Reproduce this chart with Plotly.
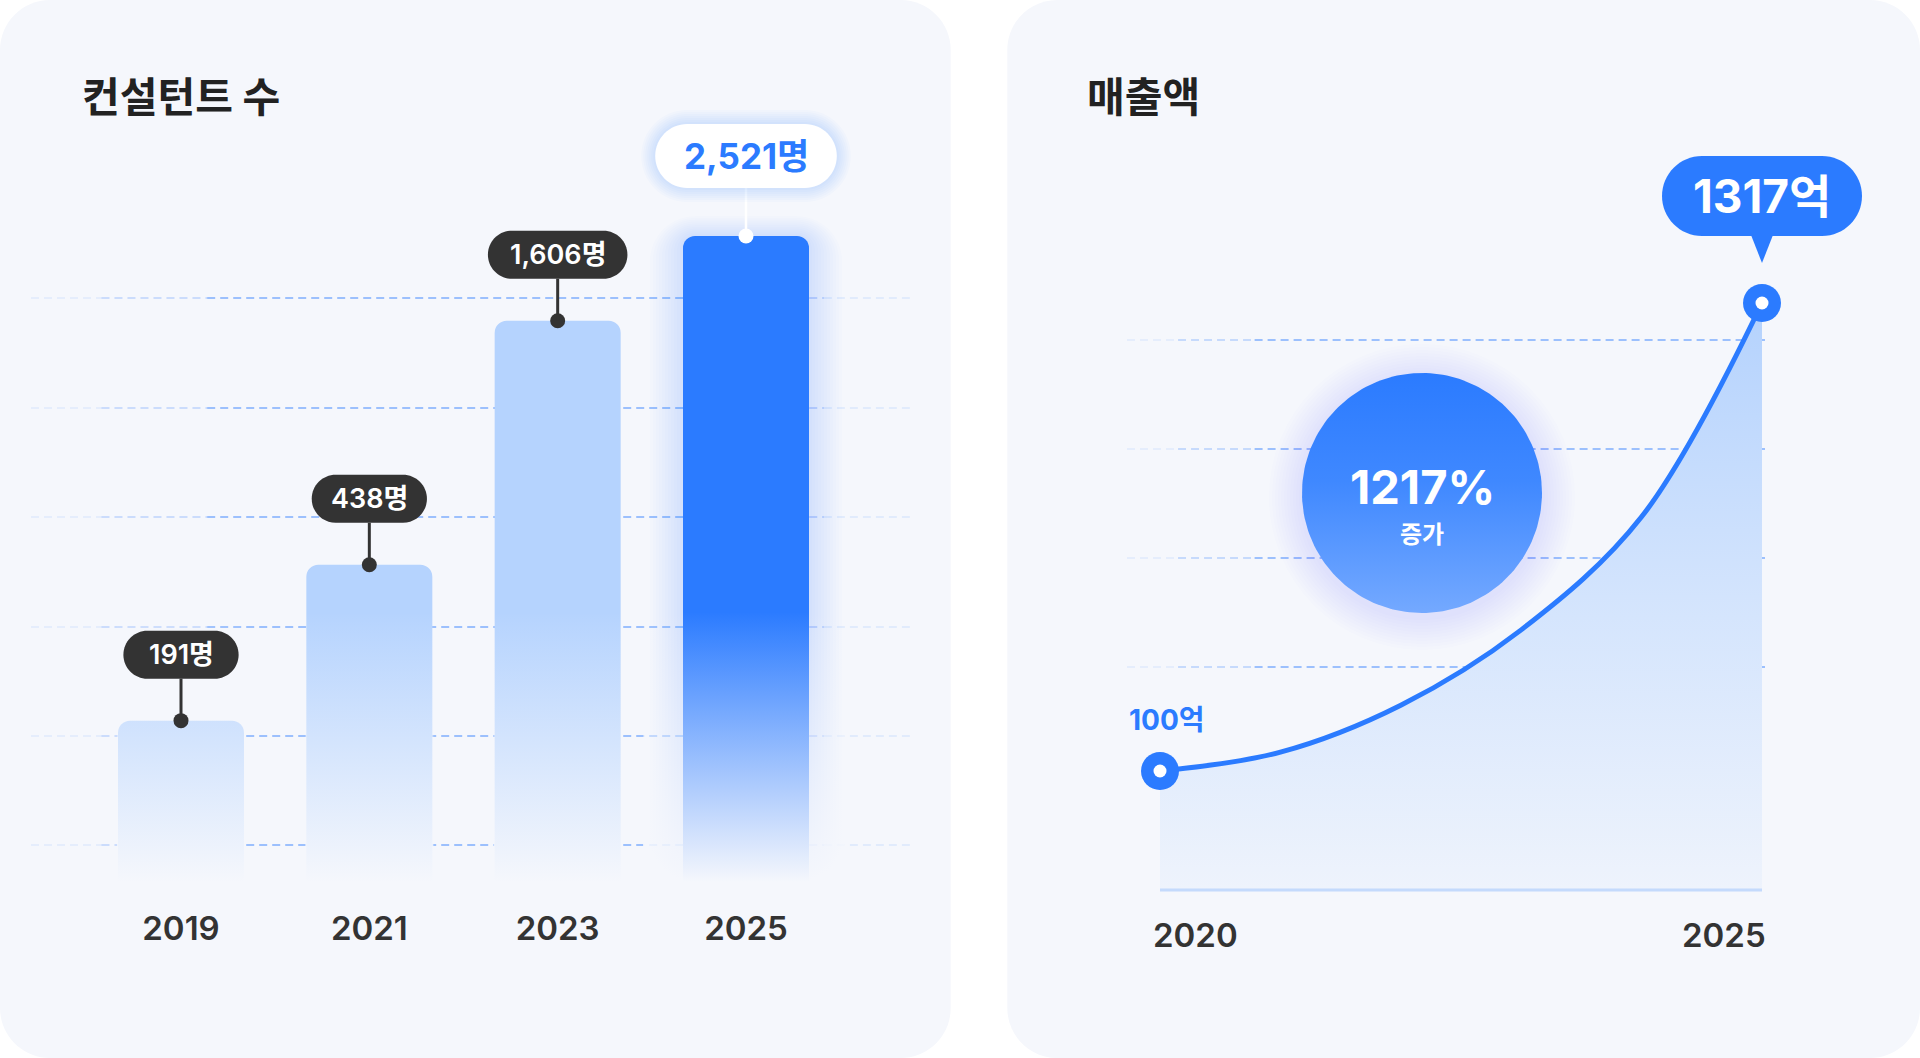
import numpy as np
import plotly.graph_objects as go

# ---------------- data ----------------
consultant_title = "컨설턴트 수"
consultant_years = [2019, 2021, 2023, 2025]
consultant_counts = [191, 438, 1606, 2521]
consultant_unit = "명"

revenue_title = "매출액"
revenue_years = [2020, 2021, 2022, 2023, 2024, 2025]
revenue_values = [100, 149, 271, 467, 761, 1317]   # 억 (intermediate years)
revenue_unit = "억"
growth_word = "증가"

# ---------------- style ----------------
W, H = 1920, 1058
CARD = "#f5f7fc"
BLUE = "#2b7bff"
LIGHT_BAR = "#b5d3fe"
DARK = "#333333"
TITLE_C = "#222222"
FONT = "Inter, 'Noto Sans CJK KR', sans-serif"


def pxx(p):
    return p / W


def pxy(p):
    return 1 - p / H


def rrect(x0, y0, x1, y1, r):
    k = 0.5523 * r
    f = lambda v: f"{v:.2f}"
    return (f"M{f(x0+r)},{f(y0)} L{f(x1-r)},{f(y0)} C{f(x1-r+k)},{f(y0)} {f(x1)},{f(y0+r-k)} {f(x1)},{f(y0+r)} "
            f"L{f(x1)},{f(y1-r)} C{f(x1)},{f(y1-r+k)} {f(x1-r+k)},{f(y1)} {f(x1-r)},{f(y1)} "
            f"L{f(x0+r)},{f(y1)} C{f(x0+r-k)},{f(y1)} {f(x0)},{f(y1-r+k)} {f(x0)},{f(y1-r)} "
            f"L{f(x0)},{f(y0+r)} C{f(x0)},{f(y0+r-k)} {f(x0+r-k)},{f(y0)} {f(x0+r)},{f(y0)} Z")


def text_w(s, fs):
    w = 0
    for c in s:
        if c.isdigit():
            w += 0.62 * fs
        elif c in ",.":
            w += 0.28 * fs
        else:
            w += 1.0 * fs
    return w


# ---------------- left geometry ----------------
L_XPX = (31, 912)
L_YPX = (100, 882)
l_first_px, l_last_px = 181, 746
l_ppy = (l_last_px - l_first_px) / (consultant_years[-1] - consultant_years[0])
l_xrange = [consultant_years[0] - (l_first_px - L_XPX[0]) / l_ppy,
            consultant_years[-1] + (L_XPX[1] - l_last_px) / l_ppy]
L_YRANGE = [1.908, 3.716]
l_ppd = (L_YPX[1] - L_YPX[0]) / (L_YRANGE[1] - L_YRANGE[0])
bar_w = 126 / l_ppy
base_val = 10 ** L_YRANGE[0]
fade_val = 10 ** (L_YRANGE[0] + (L_YPX[1] - 612) / l_ppd)


def l_top_px(v):
    return L_YPX[1] - (np.log10(v) - L_YRANGE[0]) * l_ppd


# ---------------- right geometry ----------------
R_XPX = (1127, 1910)
R_YPX = (100, 890)
r_first_px, r_last_px = 1160, 1762
r_ppy = (r_last_px - r_first_px) / (revenue_years[-1] - revenue_years[0])
r_xrange = [revenue_years[0] - (r_first_px - R_XPX[0]) / r_ppy,
            revenue_years[-1] + (R_XPX[1] - r_last_px) / r_ppy]
r_lo_px, r_hi_px = 771, 303
r_ppu = (r_lo_px - r_hi_px) / (revenue_values[-1] - revenue_values[0])
r_yrange = [revenue_values[0] - (R_YPX[1] - r_lo_px) / r_ppu,
            revenue_values[-1] + (r_hi_px - R_YPX[0]) / r_ppu]

fig = go.Figure()
shapes = []
annotations = []

# ---------------- cards ----------------
for (cx0, cx1) in [(0, 950.7), (1007.3, 1920)]:
    shapes.append(dict(type="path", xref="paper", yref="paper", xsizemode="pixel", ysizemode="pixel",
                       xanchor=0, yanchor=1, path=rrect(cx0, -H, cx1, 0, 50),
                       fillcolor=CARD, line=dict(width=0), layer="below"))


# ---------------- grid lines (decorative, dashed, faded ends) ----------------
def grid(x0, x1, y, profile):
    for f0, f1, op in profile:
        shapes.append(dict(type="line", xref="paper", yref="paper",
                           x0=pxx(x0 + (x1 - x0) * f0), x1=pxx(x0 + (x1 - x0) * f1),
                           y0=pxy(y), y1=pxy(y),
                           line=dict(color=f"rgba(43,123,255,{op})", width=1.6, dash="8px,5px"),
                           layer="below"))


for gy in [298, 408, 517, 627, 736, 845]:
    grid(31, 912, gy, [(0, 0.08, 0.10), (0.08, 0.2, 0.28), (0.2, 0.78, 0.58), (0.78, 0.9, 0.32), (0.9, 1, 0.12)])
for gy in [340, 449, 558, 667]:
    grid(1127, 1765, gy, [(0, 0.08, 0.10), (0.08, 0.2, 0.3), (0.2, 1, 0.58)])

# ---------------- left: bars ----------------
bar_colors = [LIGHT_BAR] * (len(consultant_counts) - 1) + [BLUE]
fig.add_trace(go.Bar(x=consultant_years, y=consultant_counts, width=bar_w,
                     marker=dict(color=bar_colors, line=dict(width=0), cornerradius=12),
                     xaxis="x", yaxis="y", hoverinfo="skip"))

# soft glow around highlighted bar
last_top = l_top_px(consultant_counts[-1])
for g in range(3, 36, 3):
    shapes.append(dict(type="path", xref="x", yref="y", xsizemode="pixel", ysizemode="pixel",
                       xanchor=consultant_years[-1], yanchor=consultant_counts[-1],
                       path=rrect(-63 - g, -(L_YPX[1] - last_top), 63 + g, g * 0.6, 12 + g),
                       fillcolor="rgba(43,123,255,0.014)", line=dict(width=0), layer="below"))

# fade of bars towards the bottom
for i, yr in enumerate(consultant_years):
    hw = bar_w / 2 + (40 / l_ppy if i == len(consultant_years) - 1 else 1 / l_ppy)
    fig.add_trace(go.Scatter(x=[yr - hw, yr + hw, yr + hw, yr - hw, yr - hw],
                             y=[base_val, base_val, fade_val, fade_val, base_val],
                             mode="lines", line=dict(width=0), fill="toself",
                             fillgradient=dict(type="vertical",
                                               colorscale=[[0, "rgba(245,247,252,1)"], [1, "rgba(245,247,252,0)"]]),
                             xaxis="x", yaxis="y", hoverinfo="skip"))

# dots on bar tops
dot_colors = [DARK] * (len(consultant_counts) - 1) + ["#ffffff"]
fig.add_trace(go.Scatter(x=consultant_years, y=consultant_counts, mode="markers",
                         marker=dict(size=15, color=dot_colors, line=dict(width=0)),
                         xaxis="x", yaxis="y", hoverinfo="skip"))

# labels on bars
for i, (yr, v) in enumerate(zip(consultant_years, consultant_counts)):
    txt = f"{v:,}{consultant_unit}"
    last = i == len(consultant_years) - 1
    if last:
        fs, h, off, pad = 35, 64, 80, 25
        fill, tcol, lcol, lw = "#ffffff", BLUE, "#ffffff", 2.5
    else:
        fs, h, off, pad = 27, 48, 66, 19
        fill, tcol, lcol, lw = DARK, "#ffffff", DARK, 3
    w = text_w(txt, fs) + 2 * pad
    shapes.append(dict(type="line", xref="x", yref="y", xsizemode="pixel", ysizemode="pixel",
                       xanchor=yr, yanchor=v, x0=0, x1=0, y0=0, y1=off - h / 2,
                       line=dict(color=lcol, width=lw), layer="above"))
    if last:
        for g in range(2, 16, 2):
            shapes.append(dict(type="path", xref="x", yref="y", xsizemode="pixel", ysizemode="pixel",
                               xanchor=yr, yanchor=v,
                               path=rrect(-w / 2 - g, off - h / 2 - g, w / 2 + g, off + h / 2 + g, h / 2 + g),
                               fillcolor="rgba(43,123,255,0.022)", line=dict(width=0), layer="above"))
    shapes.append(dict(type="path", xref="x", yref="y", xsizemode="pixel", ysizemode="pixel",
                       xanchor=yr, yanchor=v,
                       path=rrect(-w / 2, off - h / 2, w / 2, off + h / 2, h / 2),
                       fillcolor=fill, line=dict(width=0), layer="above"))
    annotations.append(dict(x=yr, y=np.log10(v), xref="x", yref="y", yshift=off, showarrow=False,
                            text=txt, font=dict(family=FONT, size=fs, color=tcol, weight=700 if last else 600),
                            xanchor="center", yanchor="middle"))

# ---------------- right: area line ----------------
fig.add_trace(go.Scatter(x=[revenue_years[0], revenue_years[-1]], y=[r_yrange[0], r_yrange[0]],
                         mode="lines", line=dict(width=0), xaxis="x2", yaxis="y2", hoverinfo="skip"))
fig.add_trace(go.Scatter(x=revenue_years, y=revenue_values, mode="lines",
                         line=dict(color=BLUE, width=5, shape="spline", smoothing=1.0),
                         fill="tonexty",
                         fillgradient=dict(type="vertical", start=r_yrange[0], stop=revenue_values[-1],
                                           colorscale=[[0, "#eef3fc"], [0.5, "#d3e4fd"], [1, "#b4d2fd"]]),
                         xaxis="x2", yaxis="y2", hoverinfo="skip"))

shapes.append(dict(type="line", xref="x2", yref="paper", x0=revenue_years[0], x1=revenue_years[-1],
                   y0=pxy(890), y1=pxy(890), line=dict(color="#c4dafc", width=3), layer="above"))

end_x = [revenue_years[0], revenue_years[-1]]
end_y = [revenue_values[0], revenue_values[-1]]
fig.add_trace(go.Scatter(x=end_x, y=end_y, mode="markers", marker=dict(size=38, color=BLUE, line=dict(width=0)),
                         xaxis="x2", yaxis="y2", hoverinfo="skip"))
fig.add_trace(go.Scatter(x=end_x, y=end_y, mode="markers", marker=dict(size=13, color="#ffffff", line=dict(width=0)),
                         xaxis="x2", yaxis="y2", hoverinfo="skip"))

# start label
annotations.append(dict(x=revenue_years[0], y=revenue_values[0], xref="x2", yref="y2", xshift=-33, yshift=51,
                        showarrow=False, text=f"{revenue_values[0]}{revenue_unit}",
                        font=dict(family=FONT, size=28, color=BLUE, weight=700),
                        xanchor="left", yanchor="middle"))

# end callout
end_txt = f"{revenue_values[-1]}{revenue_unit}"
cw, ch, coff = 200, 80, 107
shapes.append(dict(type="path", xref="x2", yref="y2", xsizemode="pixel", ysizemode="pixel",
                   xanchor=revenue_years[-1], yanchor=revenue_values[-1],
                   path=rrect(-cw / 2, coff - ch / 2, cw / 2, coff + ch / 2, ch / 2),
                   fillcolor=BLUE, line=dict(width=0), layer="above"))
shapes.append(dict(type="path", xref="x2", yref="y2", xsizemode="pixel", ysizemode="pixel",
                   xanchor=revenue_years[-1], yanchor=revenue_values[-1],
                   path=f"M-11,{coff - ch / 2 + 1} L11,{coff - ch / 2 + 1} L0,40 Z",
                   fillcolor=BLUE, line=dict(width=0), layer="above"))
annotations.append(dict(x=revenue_years[-1], y=revenue_values[-1], xref="x2", yref="y2", yshift=coff,
                        showarrow=False, text=end_txt, font=dict(family=FONT, size=46, color="#ffffff", weight=700),
                        xanchor="center", yanchor="middle"))

# year labels of the area chart
annotations.append(dict(x=revenue_years[0], y=pxy(935), xref="x2", yref="paper", xshift=-9, showarrow=False,
                        text=str(revenue_years[0]), font=dict(family=FONT, size=33, color=DARK, weight=600),
                        xanchor="left", yanchor="middle"))
annotations.append(dict(x=revenue_years[-1], y=pxy(935), xref="x2", yref="paper", xshift=6, showarrow=False,
                        text=str(revenue_years[-1]), font=dict(family=FONT, size=33, color=DARK, weight=600),
                        xanchor="right", yanchor="middle"))

# ---------------- growth bubble (decorative, pixel overlay axes) ----------------
growth = round((revenue_values[-1] - revenue_values[0]) / revenue_values[0] * 100)
ccx, ccy, cr = 1422, H - 493, 120
for g in range(3, 34, 3):
    shapes.append(dict(type="circle", xref="x3", yref="y3", x0=ccx - cr - g, x1=ccx + cr + g,
                       y0=ccy - cr - g - 4, y1=ccy + cr + g - 4, fillcolor="rgba(43,123,255,0.012)",
                       line=dict(width=0), layer="below"))
th = np.linspace(0, 2 * np.pi, 181)
fig.add_trace(go.Scatter(x=ccx + cr * np.cos(th), y=ccy + cr * np.sin(th), mode="lines",
                         line=dict(width=0), fill="toself",
                         fillgradient=dict(type="vertical",
                                           colorscale=[[0, "#74a9ff"], [0.55, "#3f88ff"], [1, "#2b7bff"]]),
                         xaxis="x3", yaxis="y3", hoverinfo="skip"))
annotations.append(dict(x=ccx, y=H - 486, xref="x3", yref="y3", showarrow=False, text=f"{growth}%",
                        font=dict(family=FONT, size=47, color="#ffffff", weight=700)))
annotations.append(dict(x=ccx, y=H - 534, xref="x3", yref="y3", showarrow=False, text=growth_word,
                        font=dict(family=FONT, size=24, color="#ffffff", weight=600)))

# ---------------- titles ----------------
annotations.append(dict(x=pxx(80), y=pxy(97), xref="paper", yref="paper", showarrow=False, text=consultant_title,
                        font=dict(family=FONT, size=41, color=TITLE_C, weight=700), xanchor="left", yanchor="middle"))
annotations.append(dict(x=pxx(1085), y=pxy(97), xref="paper", yref="paper", showarrow=False, text=revenue_title,
                        font=dict(family=FONT, size=41, color=TITLE_C, weight=700), xanchor="left", yanchor="middle"))

noax = dict(visible=False, showgrid=False, zeroline=False, fixedrange=True)
fig.update_layout(
    width=W, height=H, margin=dict(l=0, r=0, t=0, b=0),
    paper_bgcolor="#ffffff", plot_bgcolor="rgba(0,0,0,0)",
    showlegend=False, hovermode=False, barmode="overlay",
    xaxis=dict(domain=[pxx(L_XPX[0]), pxx(L_XPX[1])], range=l_xrange, anchor="y",
               tickvals=consultant_years, ticktext=[str(y) for y in consultant_years],
               showgrid=False, zeroline=False, showline=False, ticks="", ticklabelstandoff=24,
               tickfont=dict(family=FONT, size=33, color=DARK, weight=600), fixedrange=True),
    yaxis=dict(type="log", domain=[pxy(L_YPX[1]), pxy(L_YPX[0])], range=L_YRANGE, anchor="x", **noax),
    xaxis2=dict(domain=[pxx(R_XPX[0]), pxx(R_XPX[1])], range=r_xrange, anchor="y2", **noax),
    yaxis2=dict(domain=[pxy(R_YPX[1]), pxy(R_YPX[0])], range=r_yrange, anchor="x2", **noax),
    xaxis3=dict(domain=[0, 1], range=[0, W], anchor="y3", **noax),
    yaxis3=dict(domain=[0, 1], range=[0, H], anchor="x3", **noax),
    shapes=shapes, annotations=annotations,
)

fig.write_html("out.html", config={"displayModeBar": False},
               post_script="document.body.style.margin='0';document.body.style.overflow='hidden';")
